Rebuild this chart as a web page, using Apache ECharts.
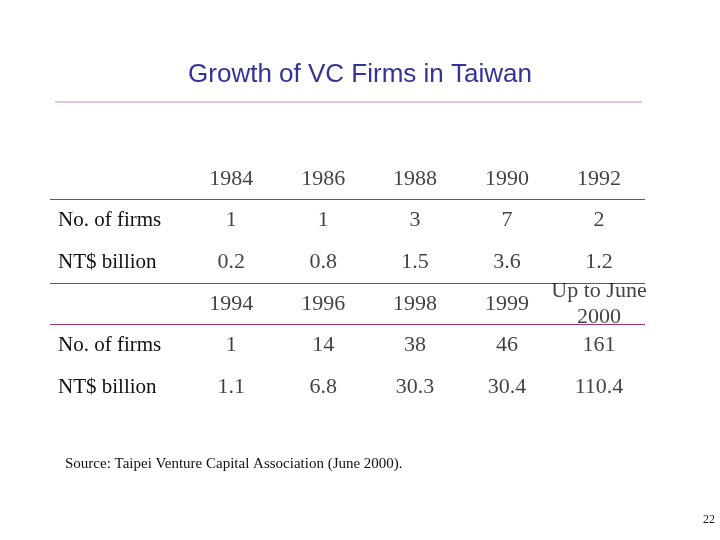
<!DOCTYPE html>
<html><head><meta charset="utf-8">
<script src="https://cdn.jsdelivr.net/npm/echarts@6/dist/echarts.min.js"></script>
<style>html,body{margin:0;padding:0;background:#fff}#c{width:720px;height:540px}</style>
</head><body><div id="c"></div>
<script>
var rowLabels = ['', 'No. of firms', 'NT$ billion', '', 'No. of firms', 'NT$ billion'];
var years1 = ['1984', '1986', '1988', '1990', '1992'];
var firms1 = ['1', '1', '3', '7', '2'];
var billion1 = ['0.2', '0.8', '1.5', '3.6', '1.2'];
var years2 = ['1994', '1996', '1998', '1999', 'Up to June\n2000'];
var firms2 = ['1', '14', '38', '46', '161'];
var billion2 = ['1.1', '6.8', '30.3', '30.4', '110.4'];

var rows = [years1, firms1, billion1, years2, firms2, billion2];
var data = [];
rows.forEach(function (r, ri) {
  r.forEach(function (t, ci) { data.push({ value: [ci, ri], text: t }); });
});
var chart = echarts.init(document.getElementById('c'));
var serif = 'Liberation Serif';
var L = '#a0327f', N = 'rgba(0,0,0,0)';
chart.setOption({
  animation: false,
  title: [
    { text: 'Growth of VC Firms in Taiwan', left: 'center', top: 57,
      textStyle: { fontFamily: 'Liberation Sans', fontSize: 26, fontWeight: 'normal', color: '#333399' } },
    { text: 'Source: Taipei Venture Capital Association (June 2000).', left: 60, top: 452,
      textStyle: { fontFamily: serif, fontSize: 15, fontWeight: 'normal', color: '#111' } },
    { text: '22', left: 698, top: 509,
      textStyle: { fontFamily: serif, fontSize: 12, fontWeight: 'normal', color: '#222' } }
  ],
  graphic: [{ type: 'line', shape: { x1: 55, y1: 102, x2: 642, y2: 102 }, style: { stroke: '#c98bbd', lineWidth: 1 } }],
  grid: { left: 50, right: 75, top: 158, bottom: 132 },
  xAxis: { type: 'value', min: -1.97, max: 4.5, show: false },
  yAxis: {
    type: 'category', inverse: true, data: rowLabels,
    axisLine: { show: false }, axisTick: { show: false },
    axisLabel: { align: 'left', margin: -8, fontFamily: serif, fontSize: 21, color: '#111' },
    splitLine: { show: true, interval: 0,
      lineStyle: { color: [N, L, N, L, L, N, N], width: 1.2 } }
  },
  series: [{
    type: 'scatter', symbolSize: 0, itemStyle: { color: N }, data: data,
    label: { show: true, position: 'inside', formatter: function (p) { return p.data.text; },
      fontFamily: serif, fontSize: 22, lineHeight: 26, color: '#111', align: 'center' }
  }]
});
</script></body></html>
